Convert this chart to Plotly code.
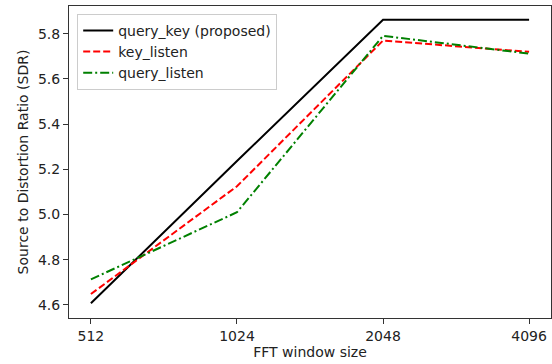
import plotly.graph_objects as go

fft_sizes = ["512", "1024", "2048", "4096"]
query_key = [4.607, 5.237, 5.862, 5.862]
key_listen = [4.648, 5.125, 5.770, 5.720]
query_listen = [4.713, 5.010, 5.791, 5.712]

FONT = "DejaVu Sans"

fig = go.Figure()
fig.add_trace(go.Scatter(x=fft_sizes, y=query_key, mode="lines", name="query_key (proposed)",
                         line=dict(color="black", width=2)))
fig.add_trace(go.Scatter(x=fft_sizes, y=key_listen, mode="lines", name="key_listen",
                         line=dict(color="red", width=2, dash="7px,3px")))
fig.add_trace(go.Scatter(x=fft_sizes, y=query_listen, mode="lines", name="query_listen",
                         line=dict(color="green", width=2, dash="9px,3px,2px,3px")))

fig.update_layout(
    width=552, height=364,
    margin=dict(l=69, r=1, t=6, b=46),
    paper_bgcolor="white", plot_bgcolor="white",
    font=dict(family=FONT, size=14, color="#222"),
    showlegend=True,
    legend=dict(x=0.017, y=0.975, xanchor="left", yanchor="top",
                bgcolor="rgba(255,255,255,0.9)", bordercolor="#cccccc", borderwidth=1,
                font=dict(family=FONT, size=14, color="#222"),
                tracegroupgap=0, itemwidth=30),
    xaxis=dict(type="category", range=[-0.15, 3.15], showgrid=False, zeroline=False,
               showline=True, linecolor="#333", linewidth=1, mirror=True,
               ticks="outside", ticklen=5, tickcolor="#333",
               title=dict(text="FFT window size", standoff=4, font=dict(size=14))),
    yaxis=dict(range=[4.542, 5.923], showgrid=False, zeroline=False,
               showline=True, linecolor="#333", linewidth=1, mirror=True,
               ticks="outside", ticklen=5, tickcolor="#333",
               tickvals=[4.6, 4.8, 5.0, 5.2, 5.4, 5.6, 5.8], tickformat=".1f",
               title=dict(text="Source to Distortion Ratio (SDR)", standoff=6, font=dict(size=14))),
)

fig.write_html("out.html", config={"displayModeBar": False},
               post_script="document.body.style.margin='0';")
